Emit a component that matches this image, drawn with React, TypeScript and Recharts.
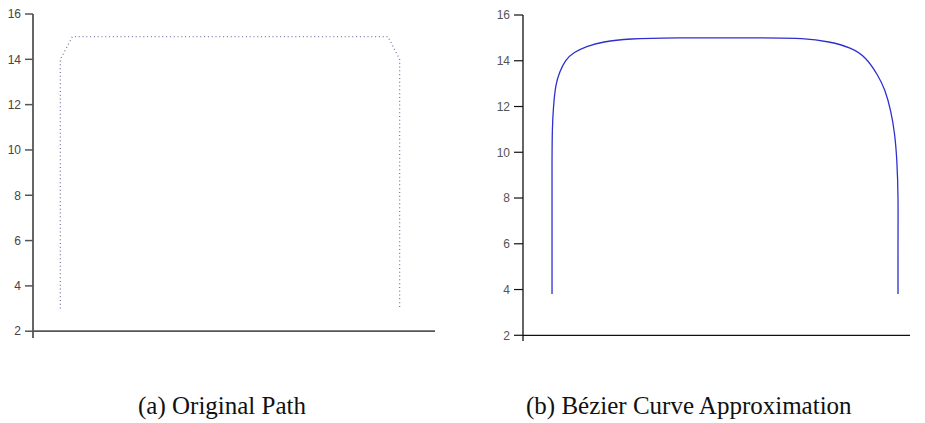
import React from 'react';
import { LineChart, Line, XAxis, YAxis, ReferenceLine } from 'recharts';

// Left panel: original path (dotted)
const leftX = [6.8, 6.8, 9.8, 88.3, 91.2, 91.2];
const leftY = [3, 14, 15, 15, 14, 3];

// Right panel: Bézier curve approximation
const rightX = [7.5, 7.5, 7.5, 7.6, 7.9, 8.5, 9.5, 11.0, 13.2, 16.5, 21.0, 28.0, 40.0, 60.0, 72.0, 79.0, 84.5, 88.5, 91.5, 93.5, 95.0, 96.0, 96.6, 96.9, 96.9, 96.9];
const rightY = [3.8, 7.0, 9.5, 11.0, 12.0, 12.9, 13.5, 14.0, 14.35, 14.62, 14.82, 14.95, 15.0, 15.0, 14.97, 14.82, 14.55, 14.1, 13.4, 12.7, 11.8, 10.8, 9.6, 8.0, 6.0, 3.8];

const yTicks = [2, 4, 6, 8, 10, 12, 14, 16];
const captions = ['(a) Original Path', '(b) Bézier Curve Approximation'];

const leftData = leftX.map((x, i) => ({ x, y: leftY[i] }));
const rightData = rightX.map((x, i) => ({ x, y: rightY[i] }));

export default function App() {
  return (
    <div style={{ position: 'absolute', left: 0, top: 0, width: 925, height: 423, background: '#fff' }}>
      <div style={{ position: 'absolute', left: 0, top: 0 }}>
        <LineChart width={450} height={360} margin={{ top: 14, right: 15, bottom: 22, left: 0 }}>
          <XAxis type="number" dataKey="x" domain={[0, 100]} hide />
          <YAxis
            type="number"
            dataKey="y"
            domain={[1.7, 16]}
            ticks={yTicks}
            interval={0}
            allowDataOverflow
            width={33}
            tickSize={8}
            tickMargin={4}
            axisLine={{ stroke: '#555', strokeWidth: 1.8 }}
            tickLine={{ stroke: '#555', strokeWidth: 1.5 }}
            tick={{ fill: '#444', fontSize: 12, fontFamily: 'Liberation Sans, Arial, sans-serif' }}
          />
          <ReferenceLine y={2} stroke="#555" strokeWidth={1.8} />
          <Line
            data={leftData}
            dataKey="y"
            type="linear"
            stroke="#7a7aa8"
            strokeWidth={1.3}
            strokeDasharray="1 2.8"
            dot={false}
            isAnimationActive={false}
          />
        </LineChart>
      </div>
      <div style={{ position: 'absolute', left: 490, top: 0 }}>
        <LineChart width={435} height={360} margin={{ top: 15, right: 15, bottom: 19, left: 0 }}>
          <XAxis type="number" dataKey="x" domain={[0, 100]} hide />
          <YAxis
            type="number"
            dataKey="y"
            domain={[1.75, 16]}
            ticks={yTicks}
            interval={0}
            allowDataOverflow
            width={33}
            tickSize={9}
            tickMargin={4}
            axisLine={{ stroke: '#111', strokeWidth: 1.3 }}
            tickLine={{ stroke: '#111', strokeWidth: 1.2 }}
            tick={{ fill: '#555', fontSize: 12, fontFamily: 'Liberation Sans, Arial, sans-serif' }}
          />
          <ReferenceLine y={2} stroke="#111" strokeWidth={1.3} />
          <Line
            data={rightData}
            dataKey="y"
            type="natural"
            stroke="#2f2fd0"
            strokeWidth={1.3}
            dot={false}
            isAnimationActive={false}
          />
        </LineChart>
      </div>
      <svg width={925} height={423} style={{ position: 'absolute', left: 0, top: 0, pointerEvents: 'none' }}>
        <text x={138} y={414} fontFamily="Liberation Serif, serif" fontSize={25} fill="#111">
          {captions[0]}
        </text>
        <text x={526} y={414} fontFamily="Liberation Serif, serif" fontSize={25} fill="#111">
          {captions[1]}
        </text>
      </svg>
    </div>
  );
}
